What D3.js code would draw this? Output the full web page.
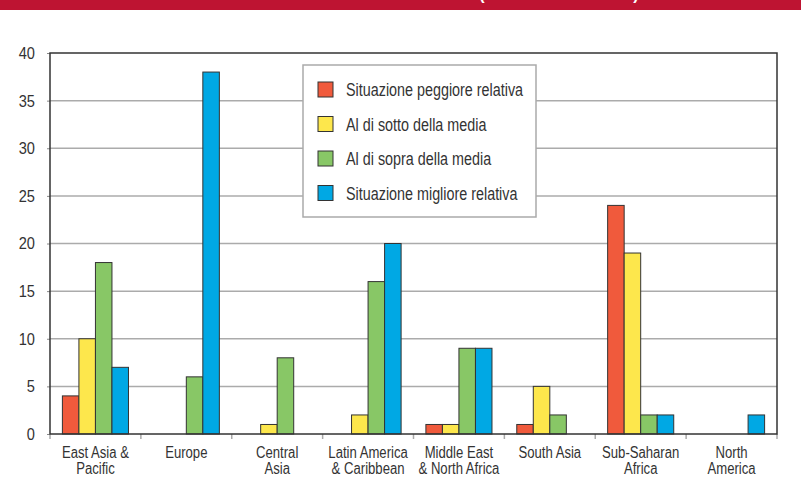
<!DOCTYPE html>
<html lang="it">
<head>
<meta charset="UTF-8">
<title>Regioni</title>
<script src="https://cdn.jsdelivr.net/npm/d3@7"></script>
<style>
  body { margin: 0; background: #fff; }
  svg text { font-family: "Liberation Sans", Arial, sans-serif; fill: #333; }
</style>
</head>
<body>
<div id="chart"></div>
<script>
// Data
var regions = [
    ["East Asia &", "Pacific"],
    ["Europe"],
    ["Central", "Asia"],
    ["Latin America", "& Caribbean"],
    ["Middle East", "& North Africa"],
    ["South Asia"],
    ["Sub-Saharan", "Africa"],
    ["North", "America"]
];
var seriesNames = [
    "Situazione peggiore relativa",
    "Al di sotto della media",
    "Al di sopra della media",
    "Situazione migliore relativa"
];
var peggiore = [4, 0, 0, 0, 1, 1, 24, 0];
var sotto    = [10, 0, 1, 2, 1, 5, 19, 0];
var sopra    = [18, 6, 8, 16, 9, 2, 2, 0];
var migliore = [7, 38, 0, 20, 9, 0, 2, 2];
var yTicks = [0, 5, 10, 15, 20, 25, 30, 35, 40];
var colors = ["#f05a3c", "#fde74c", "#88c766", "#00a8e4"];

var W = 801, H = 493;
var margin = {top: 53, right: 24, bottom: 59, left: 50};
var width = W - margin.left - margin.right;
var height = H - margin.top - margin.bottom;
var squeeze = 0.82;  // condensed look

var svg = d3.select("#chart").append("svg")
    .attr("width", W)
    .attr("height", H);

// Red banner; only the tails of the title's brackets show inside it
svg.append("rect")
    .attr("x", 0).attr("y", 0)
    .attr("width", W).attr("height", 10)
    .attr("fill", "#be1432");
svg.selectAll(".paren")
    .data([["(", 482], [")", 636]])
    .enter().append("text")
    .attr("class", "paren")
    .attr("x", function (d) { return d[1]; })
    .attr("y", 0)
    .attr("text-anchor", "middle")
    .style("font-size", "16px")
    .style("font-weight", "bold")
    .style("fill", "#fff")
    .text(function (d) { return d[0]; });

var g = svg.append("g")
    .attr("transform", "translate(" + margin.left + "," + margin.top + ")");

var keys = regions.map(function (d, i) { return i; });
var x = d3.scaleBand().domain(keys).range([0, width]).padding(0);
var xs = d3.scaleBand().domain([0, 1, 2, 3]).range([0, x.bandwidth()])
    .paddingInner(0).paddingOuter(0.75);
var y = d3.scaleLinear().domain([0, 40]).range([height, 0]);

// Gridlines
g.append("g")
    .selectAll("line")
    .data(yTicks.filter(function (t) { return t > 0 && t < 40; }))
    .enter().append("line")
    .attr("x1", 0).attr("x2", width)
    .attr("y1", function (d) { return y(d); })
    .attr("y2", function (d) { return y(d); })
    .attr("stroke", "#ababab")
    .attr("stroke-width", 1.5);

// Y axis
var yAxis = g.append("g")
    .call(d3.axisLeft(y).tickValues(yTicks).tickSize(3).tickPadding(0));
yAxis.select(".domain").remove();
yAxis.selectAll("line").attr("stroke", "#888");
yAxis.selectAll("text")
    .attr("x", 0)
    .attr("transform", "translate(-15,0) scale(0.86,1)")
    .style("font-size", "17px")
    .style("fill", "#333");

// X axis ticks at group boundaries
var bounds = d3.range(regions.length + 1).map(function (i) { return i * x.step(); });
g.append("g")
    .selectAll("line")
    .data(bounds)
    .enter().append("line")
    .attr("x1", function (d) { return d; }).attr("x2", function (d) { return d; })
    .attr("y1", height).attr("y2", height + 5)
    .attr("stroke", "#aaa")
    .attr("stroke-width", 1.5);

// Bars
var series = [peggiore, sotto, sopra, migliore];
series.forEach(function (vals, s) {
    g.append("g")
        .selectAll("rect")
        .data(vals.map(function (v, i) { return {i: i, v: v}; }).filter(function (d) { return d.v > 0; }))
        .enter().append("rect")
        .attr("x", function (d) { return x(d.i) + xs(s); })
        .attr("y", function (d) { return y(d.v); })
        .attr("width", xs.bandwidth())
        .attr("height", function (d) { return height - y(d.v); })
        .attr("fill", colors[s])
        .attr("stroke", "#333")
        .attr("stroke-width", 1);
});

// Frame
g.append("rect")
    .attr("x", 0).attr("y", 0)
    .attr("width", width).attr("height", height)
    .attr("fill", "none")
    .attr("stroke", "#333")
    .attr("stroke-width", 1.5);

// Category labels
var lbl = g.append("g").selectAll("g")
    .data(regions)
    .enter().append("g")
    .attr("transform", function (d, i) {
        return "translate(" + (x(i) + x.bandwidth() / 2) + "," + (height + 24) + ") scale(" + squeeze + ",1)";
    })
    .append("text")
    .attr("text-anchor", "middle")
    .style("font-size", "16px");
lbl.selectAll("tspan")
    .data(function (d) { return d; })
    .enter().append("tspan")
    .attr("x", 0)
    .attr("dy", function (d, j) { return j === 0 ? 0 : 16; })
    .text(function (d) { return d; });

// Legend
var lg = svg.append("g").attr("transform", "translate(303,65)");
lg.append("rect")
    .attr("width", 233).attr("height", 152)
    .attr("fill", "#fff")
    .attr("stroke", "#aaa")
    .attr("stroke-width", 1.5);
var item = lg.selectAll(".item")
    .data(seriesNames)
    .enter().append("g")
    .attr("class", "item")
    .attr("transform", function (d, i) { return "translate(15," + (17 + i * 34.5) + ")"; });
item.append("rect")
    .attr("width", 15).attr("height", 15)
    .attr("fill", function (d, i) { return colors[i]; })
    .attr("stroke", "#333")
    .attr("stroke-width", 1);
item.append("text")
    .attr("transform", "translate(28,14) scale(" + squeeze + ",1)")
    .style("font-size", "17.5px")
    .text(function (d) { return d; });
</script>
</body>
</html>
